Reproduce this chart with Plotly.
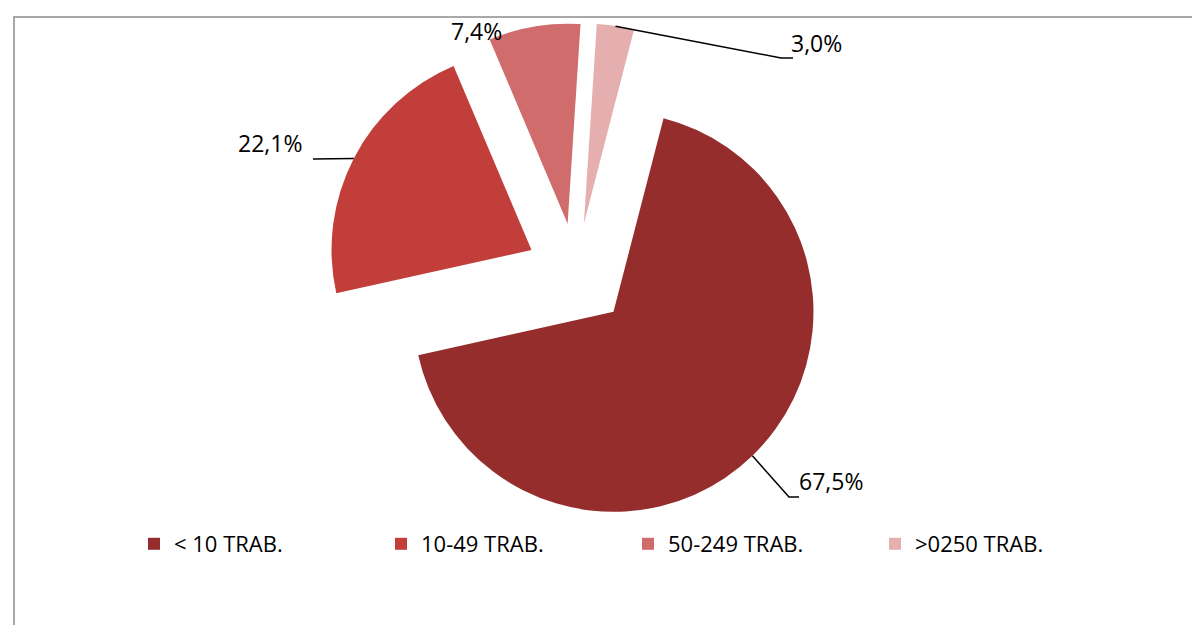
import math
import plotly.graph_objects as go

# ---- data ----
categories = ["< 10 TRAB.", "10-49 TRAB.", "50-249 TRAB.", ">0250 TRAB."]
shares = [67.5, 22.1, 7.4, 3.0]

# ---- style ----
W, H = 1200, 625
colors = ["#962D2D", "#C23E3B", "#D06C6C", "#E5AFAF"]
pulls = [0.27, 0.25, 0.25, 0.25]
rotation = 14.5
dom_x = [0.2616, 0.6850]
dom_y = [0.1696, 0.9824]
FONT = "Open Sans"

# pie geometry (same rule plotly uses) to anchor leader lines on the slices
box_w = W * (dom_x[1] - dom_x[0])
box_h = H * (dom_y[1] - dom_y[0])
r = min(box_w, box_h) / 2 / (1 + max(pulls))
cx = W * (dom_x[0] + dom_x[1]) / 2
cy = H * (1 - dom_y[0]) - box_h / 2
total = sum(shares)


def edge_point(i):
    start = rotation + 360 * sum(shares[:i]) / total
    mid = start + 180 * shares[i] / total
    a = math.radians(mid)
    d = r * (1 + pulls[i])
    return cx + d * math.sin(a), cy - d * math.cos(a)


def px(x):
    return x / W


def py(y):
    return 1 - y / H


def fmt(v):
    return f"{v:.1f}".replace(".", ",") + "%"


fig = go.Figure(
    go.Pie(
        labels=categories,
        values=shares,
        sort=False,
        direction="clockwise",
        rotation=rotation,
        pull=pulls,
        marker=dict(colors=colors, line=dict(width=0)),
        textinfo="none",
        hoverinfo="label+percent",
        domain=dict(x=dom_x, y=dom_y),
    )
)

# label placement: (text anchor x, y, xanchor, elbow points in px or None)
label_layout = [
    (789, 473, "left", [(781, 489), (791, 489)]),
    (296, 135, "right", [(305, 151)]),
    (468, 23, "center", None),
    (781, 35, "left", [(773, 50), (785, 50)]),
]

shapes = []
annotations = []
for i, (tx, ty, anchor, elbows) in enumerate(label_layout):
    annotations.append(
        dict(
            x=px(tx), y=py(ty), xref="paper", yref="paper",
            text=fmt(shares[i]), showarrow=False,
            xanchor=anchor, yanchor="middle",
            font=dict(family=FONT, size=23, color="#000000"),
        )
    )
    if elbows:
        ex, ey = edge_point(i)
        pts = [(ex, ey)] + elbows
        path = "M " + " L ".join(f"{px(x):.5f},{py(y):.5f}" for x, y in pts)
        shapes.append(
            dict(type="path", path=path, xref="paper", yref="paper",
                 line=dict(color="#000000", width=1.5))
        )

# chart frame (cropped at right and bottom like the reference)
shapes.append(
    dict(type="rect", xref="paper", yref="paper",
         x0=px(6), x1=1.05, y0=-0.05, y1=py(9),
         line=dict(color="#8C8C8C", width=1.5), fillcolor="rgba(0,0,0,0)",
         layer="below")
)

fig.update_layout(
    width=W,
    height=H,
    margin=dict(l=0, r=0, t=0, b=0),
    paper_bgcolor="#FFFFFF",
    plot_bgcolor="#FFFFFF",
    font=dict(family=FONT, color="#000000"),
    showlegend=True,
    legend=dict(
        orientation="h",
        x=0.105, y=py(536), xanchor="left", yanchor="middle",
        entrywidth=202, entrywidthmode="pixels",
        font=dict(family=FONT, size=22, color="#000000"),
        itemclick=False, itemdoubleclick=False,
        traceorder="normal",
    ),
    shapes=shapes,
    annotations=annotations,
)

fig.write_html("out.html")
